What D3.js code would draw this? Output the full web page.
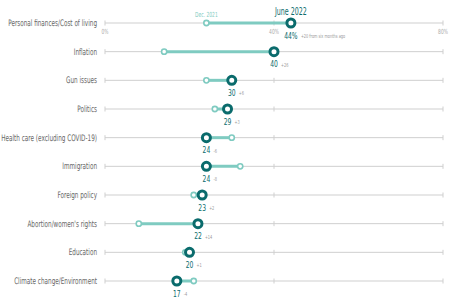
<!DOCTYPE html>
<html>
<head>
<meta charset="utf-8">
<script src="https://cdn.jsdelivr.net/npm/d3@7"></script>
<style>
  body { margin: 0; background: #fff; }
  text { font-family: "Liberation Sans Narrow", "DejaVu Sans Condensed", sans-serif; }
</style>
</head>
<body>
<div id="chart"></div>
<script>
// issues, ordered as shown
const issues = ["Personal finances/Cost of living", "Inflation", "Gun issues", "Politics",
  "Health care (excluding COVID-19)", "Immigration", "Foreign policy",
  "Abortion/women's rights", "Education", "Climate change/Environment"];
const june2022 = [44, 40, 30, 29, 24, 24, 23, 22, 20, 17];
const dec2021 = [24, 14, 24, 26, 30, 32, 21, 8, 19, 21];
const changes = ["+20", "+26", "+6", "+3", "-6", "-8", "+2", "+14", "+1", "-4"];
const ticks = [0, 40, 80];

const W = 462, H = 300;
const dark = "#0a6b6c", light = "#7fcbc1", grey = "#cfcfcf";

const svg = d3.select("#chart").append("svg").attr("width", W).attr("height", H);

// the reference face is very condensed: measure the longest label and squeeze to fit
const probe = svg.append("text").attr("font-size", 9).text(issues[0]);
const sx = Math.min(1, 89 / probe.node().getComputedTextLength());
probe.remove();

const x = d3.scaleLinear().domain([0, 80]).range([105, 443]);
const y = d3.scalePoint().domain(issues).range([23, 281]);

function squeezed(sel, px, py) {
  return sel.attr("transform", `translate(${px},${py}) scale(${sx},1)`);
}

const rows = svg.selectAll("g.row").data(issues).enter().append("g").attr("class", "row");

// grey track with small ticks
rows.append("line")
  .attr("x1", x(0)).attr("x2", x(80))
  .attr("y1", d => y(d)).attr("y2", d => y(d))
  .attr("stroke", grey).attr("stroke-width", 1);
rows.each(function(d) {
  d3.select(this).selectAll("line.tk").data(ticks).enter().append("line")
    .attr("class", "tk")
    .attr("x1", t => x(t)).attr("x2", t => x(t))
    .attr("y1", y(d) - 2.5).attr("y2", y(d) + 2.5)
    .attr("stroke", grey).attr("stroke-width", 1);
});

// category labels
rows.append("text")
  .each(function(d) { squeezed(d3.select(this), 97, y(d) + 3); })
  .attr("text-anchor", "end")
  .attr("font-size", 9).attr("fill", "#666")
  .text(d => d);

// axis labels under first row
svg.selectAll("text.ax").data(ticks).enter().append("text")
  .attr("class", "ax")
  .each(function(t) { squeezed(d3.select(this), x(t), 33.5); })
  .attr("text-anchor", "middle").attr("font-size", 7).attr("fill", "#aaa")
  .text(t => t + "%");

// connectors
rows.append("line")
  .attr("x1", (d, i) => x(dec2021[i])).attr("x2", (d, i) => x(june2022[i]))
  .attr("y1", d => y(d)).attr("y2", d => y(d))
  .attr("stroke", light).attr("stroke-width", 3);

// Dec 2021 dots
rows.append("circle")
  .attr("cx", (d, i) => x(dec2021[i])).attr("cy", d => y(d))
  .attr("r", 2.6).attr("fill", "#fff").attr("stroke", light).attr("stroke-width", 1.6);

// June 2022 dots
rows.append("circle")
  .attr("cx", (d, i) => x(june2022[i])).attr("cy", d => y(d))
  .attr("r", 4).attr("fill", "#fff").attr("stroke", dark).attr("stroke-width", 3);

// value labels
rows.append("text")
  .each(function(d, i) { squeezed(d3.select(this), x(june2022[i]), y(d) + 15.5); })
  .attr("text-anchor", "middle").attr("font-size", 9.5).attr("fill", dark)
  .text((d, i) => i === 0 ? june2022[i] + "%" : june2022[i]);

rows.append("text")
  .each(function(d, i) {
    const off = i === 0 ? 10 : 7;
    squeezed(d3.select(this), x(june2022[i]) + off, y(d) + 15);
  })
  .attr("font-size", 5.5).attr("fill", "#999")
  .text((d, i) => i === 0 ? changes[i] + " from six months ago" : changes[i]);

// series headers
squeezed(svg.append("text"), x(june2022[0]), 15)
  .attr("text-anchor", "middle").attr("font-size", 10).attr("fill", dark)
  .text("June 2022");
squeezed(svg.append("text"), x(dec2021[0]), 17)
  .attr("text-anchor", "middle").attr("font-size", 7).attr("fill", light)
  .text("Dec. 2021");
</script>
</body>
</html>
